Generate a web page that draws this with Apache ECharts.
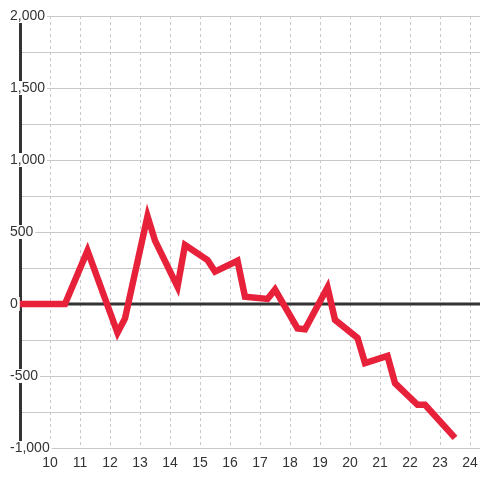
<!DOCTYPE html>
<html>
<head>
<meta charset="utf-8">
<script src="https://cdn.jsdelivr.net/npm/echarts@6/dist/echarts.min.js"></script>
<style>
  html, body { margin: 0; padding: 0; background: #fff; }
  #main { width: 480px; height: 480px; }
</style>
</head>
<body>
<div id="main"></div>
<script>
// hour of day (x) and value (y)
var hours = [8.9, 10.5, 11.25, 12.25, 12.5, 13.25, 13.5, 14.25, 14.5, 15.25, 15.5, 16.25, 16.5,
             17.25, 17.5, 18.25, 18.5, 19.25, 19.5, 20.25, 20.5, 21.25, 21.5, 22.25, 22.5, 23.5];
var values = [0, 0, 370, -200, -100, 610, 440, 120, 410, 305, 225, 300, 50,
              35, 100, -170, -175, 115, -110, -235, -410, -360, -550, -700, -700, -930];
var xMin = 9, xMax = 24.333;
var yMin = -1000, yMax = 2000;

var points = [];
for (var i = 0; i < hours.length; i++) {
  points.push([hours[i], values[i]]);
}

var font = 'Liberation Sans, Arial, sans-serif';
var chart = echarts.init(document.getElementById('main'));
chart.setOption({
  animation: false,
  backgroundColor: '#fff',
  grid: { left: 20, right: 0, top: 16, bottom: 32, containLabel: false, outerBoundsMode: 'none' },
  xAxis: {
    type: 'value', min: xMin, max: xMax, interval: 1, z: 0,
    axisLine: { show: false },
    axisTick: { show: false },
    axisLabel: {
      color: '#333', fontSize: 14, fontFamily: font, margin: 8,
      formatter: function (v) {
        if (v === 9 || v > 24.1) return '';
        return String(v);
      }
    },
    splitLine: { show: true, lineStyle: { color: '#c8c8c8', width: 1, type: [3, 3] } }
  },
  yAxis: [
    {
      // light grid every 250
      type: 'value', min: yMin, max: yMax, interval: 250, z: 0,
      axisLine: { show: false },
      axisTick: { show: false },
      axisLabel: { show: false },
      splitLine: { show: true, lineStyle: { color: '#c8c8c8', width: 1 } }
    },
    {
      // dark axis line
      type: 'value', min: yMin, max: yMax, interval: 500, position: 'left', z: 1,
      axisLine: { show: true, lineStyle: { color: '#333', width: 3 } },
      axisTick: { show: false },
      axisLabel: { show: false },
      splitLine: { show: false }
    },
    {
      // labels sitting on top of the axis line
      type: 'value', min: yMin, max: yMax, interval: 500, position: 'left', offset: 0, z: 4,
      axisLine: { show: false },
      axisTick: { show: false },
      splitLine: { show: false },
      axisLabel: {
        color: '#333', fontSize: 14, fontFamily: font, margin: 12, align: 'left',
        backgroundColor: '#fff', padding: [0, 2],
        formatter: function (v) { return v.toLocaleString('en-US'); }
      }
    }
  ],
  series: [
    {
      // zero reference line across the plot
      type: 'line',
      data: [[xMin, 0], [xMax, 0]],
      showSymbol: false,
      silent: true,
      z: 2,
      lineStyle: { color: '#333', width: 3 }
    },
    {
      type: 'line',
      data: points,
      showSymbol: false,
      clip: false,
      z: 3,
      lineStyle: { color: '#e8213b', width: 6.5, join: 'miter' }
    }
  ]
});
</script>
</body>
</html>
